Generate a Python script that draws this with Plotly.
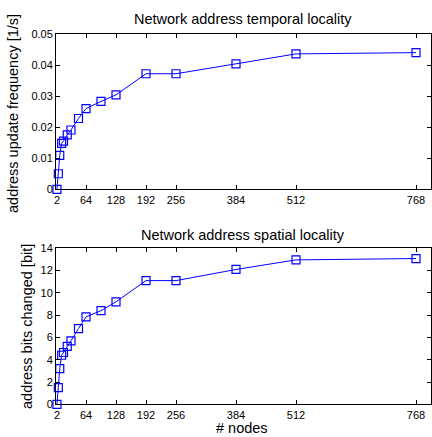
import plotly.graph_objects as go

nodes = [2, 5, 8, 12, 16, 24, 32, 48, 64, 96, 128, 192, 256, 384, 512, 768]
update_freq = [0.0, 0.0050, 0.0109, 0.0148, 0.0155, 0.0175, 0.0191, 0.0228, 0.0260, 0.0283, 0.0304,
               0.0372, 0.0372, 0.0404, 0.0436, 0.0440]
bits_changed = [0.0, 1.5, 3.2, 4.4, 4.65, 5.2, 5.7, 6.8, 7.85, 8.4, 9.2, 11.1, 11.1, 12.1, 12.96, 13.08]
x_ticks = [2, 64, 128, 192, 256, 384, 512, 768]
y1_ticks = [0, 0.01, 0.02, 0.03, 0.04, 0.05]
y1_labels = ["0", "0.01", "0.02", "0.03", "0.04", "0.05"]
y2_ticks = [0, 2, 4, 6, 8, 10, 12, 14]

W, H = 432, 437
BLUE = "#0000ff"
FONT = "Liberation Sans Narrow, Liberation Sans, Arial"
TFONT = dict(family="Liberation Sans, Arial", size=14.5, color="black")

fig = go.Figure()
for y, xa, ya in [(update_freq, "x", "y"), (bits_changed, "x2", "y2")]:
    fig.add_trace(go.Scatter(
        x=nodes, y=y, xaxis=xa, yaxis=ya, mode="lines+markers",
        line=dict(color=BLUE, width=1),
        marker=dict(symbol="square-open", size=8, color=BLUE, line=dict(width=1.2, color=BLUE)),
        showlegend=False, cliponaxis=False))

xdom = [56 / W, 431 / W]
axis_common = dict(showgrid=False, zeroline=False, showline=True, linecolor="black", linewidth=1,
                   mirror="ticks", ticks="inside", ticklen=4, tickcolor="black", automargin=False,
                   tickfont=dict(family=FONT, size=11, color="black"))


def label(text, px, py, angle=0):
    return dict(text=text, x=px / W, y=1 - py / H, xref="paper", yref="paper",
                xanchor="center", yanchor="middle", textangle=angle, showarrow=False, font=TFONT)


fig.update_layout(
    width=W, height=H, margin=dict(l=0, r=0, t=0, b=0, pad=0, autoexpand=False),
    paper_bgcolor="white", plot_bgcolor="white",
    xaxis=dict(domain=xdom, range=[0, 800], tickvals=x_ticks, anchor="y", **axis_common),
    yaxis=dict(domain=[1 - 189.3 / H, 1 - 34 / H], range=[0, 0.05], tickvals=y1_ticks,
               ticktext=y1_labels, anchor="x", **axis_common),
    xaxis2=dict(domain=xdom, range=[0, 800], tickvals=x_ticks, anchor="y2", **axis_common),
    yaxis2=dict(domain=[1 - 404.3 / H, 1 - 248.3 / H], range=[0, 14], tickvals=y2_ticks,
                anchor="x2", **axis_common),
    annotations=[
        label("Network address temporal locality", 243, 19),
        label("Network address spatial locality", 243, 235),
        label("address update frequency [1/s]", 13, 114, -90),
        label("address bits changed [bit]", 27, 327, -90),
        label("# nodes", 242, 428),
    ],
)

fig.write_html("out.html")
